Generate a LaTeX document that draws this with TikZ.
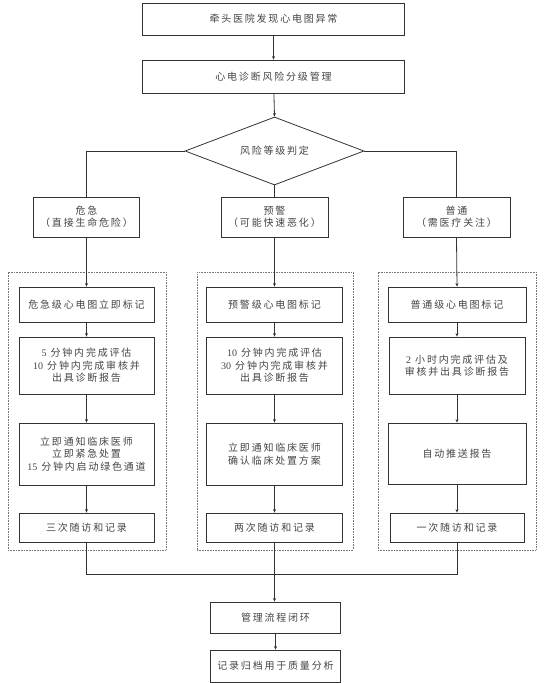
\documentclass[tikz,border=0pt]{standalone}
\usepackage{fontspec}
\setmainfont{Noto Sans CJK SC}[LetterSpace=18]
\newfontfamily\numfont{Liberation Serif}
\newcommand{\nm}[1]{{\numfont #1}}
\usetikzlibrary{shapes.geometric,arrows.meta}
\definecolor{linec}{HTML}{333333}
\definecolor{txtc}{HTML}{444444}
\definecolor{dotc}{HTML}{777777}
\tikzset{
  box/.style={draw=linec, line width=0.8pt, inner sep=0pt, align=center,
    text=txtc, font=\fontsize{10}{12.5}\selectfont},
  sz/.style 2 args={minimum width=#1pt, minimum height=#2pt},
  conn/.style={draw=linec, line width=0.8pt},
  arr/.style={conn, -{Stealth[length=3.5pt,width=3pt]}},
  grp/.style={draw=dotc, line width=0.7pt, dash pattern=on 0.8pt off 0.8pt, inner sep=0pt},
}
\begin{document}
\begin{tikzpicture}[x=1pt,y=-1pt]
\useasboundingbox (0,0) rectangle (546,683);

% top
\node[box, sz={262}{32}] (n1) at (273.5,19) {牵头医院发现心电图异常};
\node[box, sz={262}{33}] (n2) at (273.5,76.5) {心电诊断风险分级管理};
\node[box, shape=diamond, aspect=2.63, minimum width=179pt, minimum height=68pt] (dia) at (274.5,151) {风险等级判定};

% levels
\node[box, sz={106}{40}] (lvL) at (86.5,217) {危急\\（直接生命危险）};
\node[box, sz={107}{40}] (lvM) at (274.5,217) {预警\\（可能快速恶化）};
\node[box, sz={107}{40}] (lvR) at (456.5,217) {普通\\（需医疗关注）};

% groups
\node[grp, sz={158}{278}] (gL) at (87,411) {};
\node[grp, sz={156}{278}] (gM) at (275,411) {};
\node[grp, sz={158}{278}] (gR) at (457,411) {};

% left column
\node[box, sz={135}{35}] (aL) at (86.5,304.5) {危急级心电图立即标记};
\node[box, sz={135}{57}] (bL) at (86.5,365.5) {\nm{5} 分钟内完成评估\\\nm{10} 分钟内完成审核并\\出具诊断报告};
\node[box, sz={135}{62}] (cL) at (86.5,454) {立即通知临床医师\\立即紧急处置\\\nm{15} 分钟内启动绿色通道};
\node[box, sz={135}{29}] (dL) at (86.5,527.5) {三次随访和记录};

% middle column
\node[box, sz={136}{35}] (aM) at (274.5,304.5) {预警级心电图标记};
\node[box, sz={136}{57}] (bM) at (274.5,365.5) {\nm{10} 分钟内完成评估\\\nm{30} 分钟内完成审核并\\出具诊断报告};
\node[box, sz={136}{62}] (cM) at (274.5,454) {立即通知临床医师\\确认临床处置方案};
\node[box, sz={136}{29}] (dM) at (274.5,527.5) {两次随访和记录};

% right column
\node[box, sz={138}{35}] (aR) at (457,304.5) {普通级心电图标记};
\node[box, sz={136}{57}] (bR) at (457,365.5) {\nm{2} 小时内完成评估及\\审核并出具诊断报告};
\node[box, sz={138}{61}] (cR) at (457,453.5) {自动推送报告};
\node[box, sz={134}{29}] (dR) at (457,527.5) {一次随访和记录};

% bottom
\node[box, sz={130}{31}] (cl) at (275.5,617.5) {管理流程闭环};
\node[box, sz={130}{32}] (ar) at (275.5,666) {记录归档用于质量分析};

\coordinate (jL) at (86.5,574);
\coordinate (jR) at (457,574);

% connectors
\draw[arr] (n1) -- (n2);
\draw[arr] (n2) -- (dia.north);
\draw[conn] (dia.west) -| (lvL.north);
\draw[conn] (dia.south) -- (lvM.north);
\draw[conn] (dia.east) -| (lvR.north);

\foreach \c in {L,M,R}{
  \draw[arr] (lv\c.south) -- (a\c.north);
  \draw[arr] (a\c) -- (b\c);
  \draw[arr] (b\c) -- (c\c);
  \draw[arr] (c\c) -- (d\c);
}
\draw[conn] (dL.south) -- (jL) -- (jR) -- (dR.south);
\draw[arr] (dM.south) -- (dM.south |- cl.north);
\draw[arr] (cl) -- (ar);
\end{tikzpicture}
\end{document}
